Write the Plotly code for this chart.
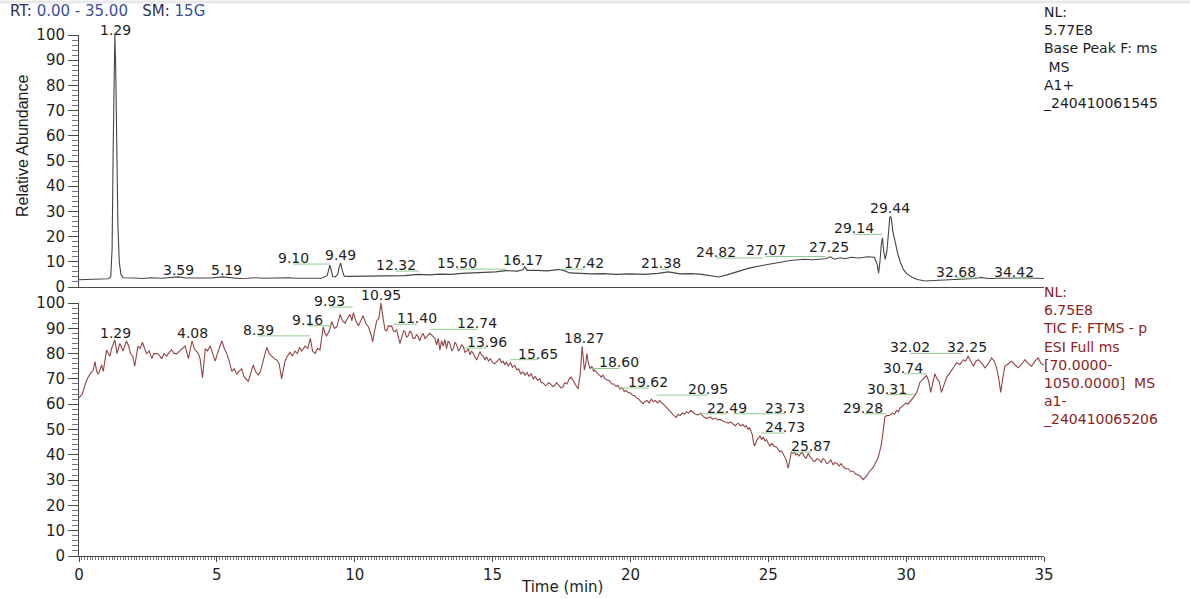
import plotly.graph_objects as go

W, H = 1190, 598

# ---------------- data ----------------
# Base peak chromatogram (top panel)
bp_time = [0.0, 0.3, 0.6, 0.9, 1.05, 1.15, 1.2, 1.24, 1.27, 1.30, 1.33, 1.37, 1.41, 1.46, 1.52, 1.6,
           1.8, 2.0, 2.3, 2.6, 3.0, 3.3, 3.6, 3.9, 4.2, 4.5, 4.8, 5.2, 5.5, 5.8, 6.1, 6.4, 6.7, 7.0,
           7.3, 7.6, 7.9, 8.2, 8.5, 8.8, 9.0, 9.05, 9.10, 9.15, 9.2, 9.3, 9.38, 9.44, 9.49, 9.55,
           9.62, 9.8, 10.2, 10.6, 11.0, 11.4, 11.8, 12.32, 12.7, 13.1, 13.5, 13.9, 14.3, 14.7,
           15.1, 15.5, 15.9, 16.1, 16.17, 16.25, 16.6, 17.0, 17.42, 17.6, 17.8, 18.2, 18.6, 19.0,
           19.5, 20.0, 20.5, 21.0, 21.38, 21.8, 22.2, 22.6, 23.0, 23.2, 23.5, 23.9, 24.3, 24.82,
           25.3, 25.8, 26.3, 26.6, 27.07, 27.25, 27.4, 27.6, 27.8, 28.0, 28.3, 28.6, 28.85, 28.95,
           29.0, 29.05, 29.10, 29.14, 29.19, 29.24, 29.3, 29.36, 29.41, 29.46, 29.52, 29.6, 29.7,
           29.8, 29.9, 30.0, 30.2, 30.4, 30.7, 31.0, 31.4, 31.8, 32.2, 32.5, 32.68, 33.0, 33.4,
           33.8, 34.1, 34.42, 34.7, 35.0]
bp_abund = [2.9, 3.0, 3.1, 3.2, 3.3, 4.0, 15, 55, 90, 100, 88, 55, 25, 10, 5, 3.7,
            3.5, 3.6, 3.4, 3.7, 3.5, 3.8, 4.0, 3.6, 3.5, 3.4, 3.6, 4.0, 3.6, 3.4, 3.5, 3.7, 3.5, 3.6,
            3.4, 3.7, 3.5, 3.6, 3.4, 3.5, 4.5, 7.0, 8.7, 6.5, 4.2, 4.0, 5.0, 8.0, 9.5, 6.5,
            4.3, 4.2, 4.3, 4.2, 4.4, 4.6, 4.5, 5.0, 4.8, 5.1, 5.0, 5.4, 5.5, 5.8,
            6.0, 6.5, 6.3, 6.8, 8.0, 6.6, 6.6, 6.4, 7.0, 6.5, 5.6, 5.4, 5.2, 5.3,
            5.0, 5.2, 5.0, 5.4, 6.0, 5.2, 5.3, 5.0, 4.2, 4.0, 4.8, 6.0, 7.5, 8.6,
            9.5, 10.5, 11.0, 10.8, 11.2, 12.0, 11.0, 11.6, 11.2, 11.8, 11.5, 12.0, 11.8, 9.0,
            5.5, 10.0, 17.0, 19.5, 14.0, 11.0, 14.0, 24.0, 28.0, 27.5, 22.0, 18.0, 13.0,
            9.5, 7.0, 5.5, 4.0, 3.0, 2.4, 2.6, 2.8, 3.0, 3.2, 3.4, 3.8, 3.4, 3.5,
            3.6, 3.8, 3.6, 3.5, 3.4]

# Total ion chromatogram (bottom panel)
tic_time = [0.00, 0.04, 0.12, 0.2, 0.28, 0.4, 0.52, 0.58, 0.64, 0.70, 0.76, 0.82, 0.88, 0.94, 1.0,
            1.06, 1.12, 1.18, 1.24, 1.30, 1.38, 1.43, 1.48, 1.54, 1.6, 1.66, 1.72, 1.8, 1.87, 1.95,
            2.02, 2.08, 2.14, 2.22, 2.3, 2.38, 2.45, 2.55, 2.64, 2.72, 2.82, 2.9, 3.0, 3.08, 3.18,
            3.27, 3.36, 3.45, 3.55, 3.64, 3.73, 3.85, 3.92, 3.97, 4.04, 4.1, 4.18, 4.27, 4.33, 4.39,
            4.48, 4.53, 4.58, 4.66, 4.76, 4.85, 4.94, 5.02, 5.1, 5.18, 5.27, 5.36, 5.45, 5.54, 5.63,
            5.72, 5.8, 5.9, 5.98, 6.06, 6.14, 6.22, 6.32, 6.4, 6.5, 6.58, 6.69, 6.75, 6.81, 6.9,
            6.99, 7.08, 7.17, 7.26, 7.35, 7.41, 7.47, 7.56, 7.65, 7.74, 7.83, 7.92, 8.0, 8.08, 8.2,
            8.3, 8.39, 8.47, 8.56, 8.65, 8.74, 8.86, 8.92, 8.98, 9.08, 9.17, 9.26, 9.35, 9.41, 9.47,
            9.56, 9.65, 9.74, 9.83, 9.9, 9.95, 10.04, 10.13, 10.22, 10.3, 10.4, 10.5, 10.58, 10.65,
            10.72, 10.8, 10.88, 10.95, 11.03, 11.1, 11.16, 11.22, 11.28, 11.34, 11.4, 11.46, 11.52,
            11.58, 11.64, 11.72, 11.78, 11.82, 11.88, 11.94, 12.0, 12.06, 12.12, 12.18, 12.24, 12.3,
            12.36, 12.42, 12.48, 12.55, 12.64, 12.73, 12.82, 12.91, 12.97, 13.03, 13.09, 13.15,
            13.21, 13.27, 13.33, 13.39, 13.45, 13.52, 13.58, 13.64, 13.7, 13.76, 13.82, 13.88,
            13.94, 14.0, 14.06, 14.12, 14.18, 14.24, 14.3, 14.36, 14.42, 14.48, 14.54, 14.6, 14.66,
            14.72, 14.78, 14.85, 14.92, 15.0, 15.08, 15.17, 15.26, 15.32, 15.38, 15.44, 15.5, 15.57,
            15.65, 15.72, 15.8, 15.88, 15.95, 16.02, 16.1, 16.18, 16.25, 16.32, 16.4, 16.48, 16.55,
            16.63, 16.71, 16.77, 16.83, 16.9, 16.95, 17.02, 17.1, 17.18, 17.25, 17.32, 17.4, 17.48,
            17.55, 17.62, 17.7, 17.78, 17.85, 17.95, 18.05, 18.1, 18.18, 18.25, 18.3, 18.33, 18.38,
            18.42, 18.48, 18.54, 18.6, 18.66, 18.7, 18.76, 18.82, 18.88, 18.94, 19.0, 19.08, 19.16,
            19.24, 19.32, 19.4, 19.48, 19.55, 19.62, 19.7, 19.78, 19.85, 19.92, 20.0, 20.08, 20.15,
            20.22, 20.3, 20.38, 20.45, 20.52, 20.6, 20.68, 20.76, 20.83, 20.9, 20.98, 21.06, 21.13,
            21.2, 21.28, 21.36, 21.43, 21.5, 21.58, 21.66, 21.73, 21.8, 21.88, 21.96, 22.03, 22.1,
            22.18, 22.27, 22.36, 22.45, 22.54, 22.63, 22.72, 22.8, 22.9, 22.99, 23.08, 23.17, 23.26,
            23.35, 23.45, 23.55, 23.63, 23.72, 23.8, 23.9, 23.99, 24.08, 24.15, 24.2, 24.27, 24.32,
            24.38, 24.42, 24.46, 24.5, 24.6, 24.7, 24.76, 24.82, 24.88, 24.94, 25.0, 25.06, 25.13,
            25.2, 25.3, 25.36, 25.42, 25.48, 25.55, 25.6, 25.65, 25.72, 25.78, 25.84, 25.9, 25.95,
            26.0, 26.05, 26.1, 26.15, 26.22, 26.3, 26.37, 26.45, 26.52, 26.58, 26.64, 26.69, 26.77,
            26.85, 26.92, 26.98, 27.05, 27.12, 27.2, 27.27, 27.35, 27.42, 27.5, 27.57, 27.64, 27.71,
            27.8, 27.9, 27.98, 28.08, 28.16, 28.25, 28.34, 28.44, 28.5, 28.55, 28.68, 28.8, 28.98,
            29.08, 29.14, 29.2, 29.23, 29.3, 29.41, 29.5, 29.58, 29.65, 29.72, 29.78, 29.89, 30.0,
            30.07, 30.13, 30.22, 30.31, 30.4, 30.5, 30.62, 30.74, 30.82, 30.89, 30.96, 31.04, 31.12,
            31.2, 31.28, 31.37, 31.47, 31.56, 31.65, 31.75, 31.83, 31.95, 32.07, 32.15, 32.25, 32.35,
            32.44, 32.53, 32.62, 32.75, 32.86, 32.98, 33.1, 33.2, 33.28, 33.36, 33.43, 33.5, 33.58,
            33.7, 33.83, 33.95, 34.07, 34.2, 34.31, 34.43, 34.55, 34.67, 34.79, 34.9, 35.0]
tic_abund = [62.5, 63, 64, 67, 69.6, 72, 73.5, 76.8, 73, 71.8, 73.5, 75.5, 73, 77, 81.4,
             80, 79, 82, 83.4, 85.4, 80, 82, 84, 82.5, 81, 83, 85, 83, 80, 79,
             75, 79, 83, 82, 84.5, 82, 80, 81, 78, 80, 80, 79.5, 78, 80, 79,
             80.5, 81.5, 80, 80, 81, 82, 83, 80, 78, 82, 85, 82, 81, 80, 78,
             70.5, 76, 82, 81, 83, 80, 77, 80, 83, 85, 82, 80, 77, 73, 74,
             71.8, 73, 74, 71, 70, 68.9, 72, 75.5, 73, 71.5, 73, 78, 81, 82.5, 80,
             79, 78, 77.5, 76, 70, 74, 77, 79, 80.5, 79, 81, 80, 82.5, 81, 83,
             82, 86, 81, 80, 82, 81.5, 90.6, 88, 87, 89, 92.6, 90, 90.5, 93, 95.5,
             93, 92, 94, 95.5, 93, 96.2, 93, 91, 93, 95, 92, 90.5, 88, 84.6,
             89, 93, 94, 100, 94, 89.3, 89, 91, 90.7, 91, 89, 88.7, 89.5,
             87, 84, 87, 89, 88.7, 86.5, 87, 89, 88, 86, 86, 87.5, 86.8,
             85, 87, 88, 86, 87, 88, 87, 86, 83.5, 86, 81.4, 85,
             83, 85.5, 82, 85, 84, 81, 82, 84.5, 83.4, 81, 82, 83.5,
             82.7, 80.5, 81, 82, 79.5, 81, 80, 78.5, 77.5, 79, 80.8, 79.5, 79,
             77.5, 78.8, 77, 78, 76.5, 76, 77, 78, 76.5, 77, 75.5, 76.8, 75,
             76.5, 74.5, 75.4, 73.5, 74, 72, 72.8, 71.5, 72.5, 71, 72, 70, 71,
             69.5, 70, 68.5, 68.5, 67.5, 67.4, 68.5, 68, 67, 67.4, 68.5, 67.5, 66.5,
             66.8, 68.5, 68, 70, 70.7, 69, 67, 66, 72, 82.8, 77, 73.5, 76,
             80, 76, 74, 75, 73, 73.5, 72.5, 72, 71.5, 70.7, 71.5, 70, 69.5,
             69.4, 68, 68, 67, 67.4, 66, 66.5, 65, 65.4, 64.5, 64.5, 63.5, 63.4,
             62.5, 62, 61, 60.2, 61, 61.5, 60.5, 62, 61, 61.5, 60.5, 61.4, 60.5,
             60, 59, 58, 57.5, 56.5, 55.5, 54.8, 56, 55.5, 56.5, 56, 57, 56.5,
             57.5, 56.8, 56, 55.8, 56.5, 55.4, 54.5, 54.5, 55, 54, 54.5, 53.8, 54,
             53.4, 53, 52.5, 53, 52, 51.5, 52.5, 51.5, 52, 51, 51.5, 50, 50.8,
             49.5, 48, 45, 43.5, 46, 47.5, 46, 47, 45.5, 46, 44.5, 43.5, 44.5,
             43.5, 43, 42, 41.2, 41.5, 40, 39, 38, 34.7, 38, 41.2, 40.5, 41,
             40, 40.5, 39.5, 40, 41, 39.5, 38.5, 40.6, 39, 38.5, 37.5, 37.4, 38.5,
             38, 37, 38.5, 38, 36.5, 37, 38, 36.1, 37, 36.5, 35.5, 36.5, 35.4,
             34.5, 34.5, 33.5, 33.5, 32.5, 32, 31.5, 30.2, 30.8, 31.5, 33.5, 35, 38.7,
             43, 47, 52, 55, 55.5, 55.6, 56.5, 56, 57.6, 57, 58.5, 59.5, 60.5,
             60, 60.8, 62, 63.4, 65, 68.7, 70, 71.3, 69, 64.7, 68, 72, 70,
             69, 64.7, 68, 70.7, 72, 73.3, 75, 76.4, 75.7, 77.6, 77, 79, 77,
             75, 77, 77.6, 76, 74.4, 76, 78.3, 77, 74.4, 70, 64.7, 70, 75,
             76, 77, 75.5, 74.4, 76, 77.6, 76, 75, 77, 78.3, 76, 75.5]

# Peak labels: retention time value, and where the label text sits (time, abundance)
bp_peak_rt = [1.29, 3.59, 5.19, 9.10, 9.49, 12.32, 15.50, 16.17, 17.42, 21.38,
              24.82, 27.07, 27.25, 29.14, 29.44, 32.68, 34.42]
bp_label_t = [1.31, 3.60, 5.36, 7.77, 9.50, 11.50, 13.70, 16.10, 18.30, 21.10,
              23.10, 24.90, 27.20, 28.10, 29.40, 31.80, 33.90]
bp_label_y = [101.8, 6.7, 6.7, 11.5, 12.7, 8.7, 9.5, 10.7, 9.5, 9.5,
              13.9, 14.5, 15.9, 23.3, 31.5, 6.0, 6.0]

tic_peak_rt = [1.29, 4.08, 8.39, 9.16, 9.93, 10.95, 11.40, 12.74, 13.96, 15.65, 18.27, 18.60,
               19.62, 20.95, 22.49, 23.73, 24.73, 25.87, 29.28, 30.31, 30.74, 32.02, 32.25]
tic_label_t = [1.34, 4.10, 6.50, 8.30, 9.10, 10.96, 12.25, 14.45, 14.80, 16.65, 18.30, 19.60,
               20.65, 22.80, 23.50, 25.60, 25.60, 26.55, 28.45, 29.30, 29.90, 30.15, 32.20]
tic_label_y = [88.0, 88.0, 89.4, 93.4, 100.8, 103.0, 94.0, 92.0, 84.6, 80.0, 86.0, 76.5,
               68.8, 66.0, 58.6, 58.6, 51.0, 43.5, 58.6, 66.2, 74.4, 82.5, 82.6]

x_ticks = [0, 5, 10, 15, 20, 25, 30, 35]
y_ticks = [0, 10, 20, 30, 40, 50, 60, 70, 80, 90, 100]

top_info = ["NL:", "5.77E8", "Base Peak F: ms", "\u00a0MS", "A1+", "_240410061545"]
bottom_info = ["NL:", "6.75E8", "TIC F: FTMS - p", "ESI Full ms", "[70.0000-",
               "1050.0000]\u00a0\u00a0MS", "a1-", "_240410065206"]

# ---------------- styling ----------------
FONT = "DejaVu Sans, Liberation Sans, Arial, sans-serif"
AX = "#4a4a4a"
TXT = "#1e1e1e"
GREEN = "#8fca8f"

X0, X1 = 79, 1044          # plot area, pixels
TOP_Y0, TOP_Y1 = 287, 35
BOT_Y0, BOT_Y1 = 556, 303


def pxx(x):
    return x / W


def pxy(y):
    return 1 - y / H


x_dom = [pxx(X0), pxx(X1)]
top_dom = [pxy(TOP_Y0), pxy(TOP_Y1)]
bot_dom = [pxy(BOT_Y0), pxy(BOT_Y1)]

fig = go.Figure()
fig.add_trace(go.Scatter(x=bp_time, y=bp_abund, mode="lines", xaxis="x", yaxis="y",
                         line=dict(color="#454545", width=1.1), hoverinfo="skip", showlegend=False))
fig.add_trace(go.Scatter(x=tic_time, y=tic_abund, mode="lines", xaxis="x2", yaxis="y2",
                         line=dict(color="#934545", width=1.1), hoverinfo="skip", showlegend=False))

yax = dict(range=[0, 100], tickvals=y_ticks, ticks="outside", ticklen=10, tickwidth=1,
           tickcolor=AX, showline=True, linecolor=AX, linewidth=1, showgrid=False, zeroline=False,
           tickfont=dict(family=FONT, size=15, color=TXT), automargin=False,
           minor=dict(dtick=2, ticks="outside", ticklen=6, tickcolor="#777777", showgrid=False),
           fixedrange=True)

fig.update_layout(
    width=W, height=H, margin=dict(l=0, r=0, t=0, b=0, autoexpand=False),
    paper_bgcolor="white", plot_bgcolor="white",
    xaxis=dict(domain=x_dom, anchor="y", range=[0, 35], showline=True, linecolor=AX,
               ticks="", showticklabels=False, showgrid=False, zeroline=False, automargin=False,
               fixedrange=True),
    yaxis=dict(domain=top_dom, anchor="x", **yax),
    xaxis2=dict(domain=x_dom, anchor="y2", range=[0, 35], tickvals=x_ticks, showline=True,
                linecolor=AX, ticks="outside", ticklen=5, tickcolor=AX, showgrid=False,
                zeroline=False, tickfont=dict(family=FONT, size=15, color=TXT), automargin=False,
                fixedrange=True,
                minor=dict(dtick=0.1, ticks="outside", ticklen=3, tickcolor="#777777",
                           showgrid=False)),
    yaxis2=dict(domain=bot_dom, anchor="x2", **yax),
)

annotations = []
shapes = []


def add_labels(peaks, lt, ly, xr, yr, px_per_unit):
    for rt, t, y in zip(peaks, lt, ly):
        # labels above the top of the axis range are pinned to 100 and shifted up in pixels
        ypos = min(y, 100.0)
        shift = (y - ypos) * px_per_unit
        annotations.append(dict(x=t, y=ypos, xref=xr, yref=yr, text=f"{rt:.2f}", showarrow=False,
                                xanchor="center", yanchor="middle", yshift=shift, borderpad=0,
                                font=dict(family=FONT, size=14, color=TXT)))
        if abs(t - rt) > 0.2 and y - 2.4 <= 100:
            shapes.append(dict(type="line", xref=xr, yref=yr, x0=t, x1=rt, y0=y - 2.4, y1=y - 2.4,
                               line=dict(color=GREEN, width=1)))


add_labels(bp_peak_rt, bp_label_t, bp_label_y, "x", "y", (TOP_Y0 - TOP_Y1) / 100)
add_labels(tic_peak_rt, tic_label_t, tic_label_y, "x2", "y2", (BOT_Y0 - BOT_Y1) / 100)

# header
annotations.append(dict(
    x=pxx(9), y=pxy(11), xref="paper", yref="paper", xanchor="left", yanchor="middle",
    showarrow=False, borderpad=0, font=dict(family=FONT, size=15, color="#2d2d5a"),
    text="RT: <span style='color:#3c4f9e'>0.00 - 35.00</span>\u00a0\u00a0\u00a0SM: "
         "<span style='color:#3c4f9e'>15G</span>"))

# info blocks on the right (one multi-line text each)
annotations.append(dict(x=pxx(1042), y=pxy(3), xref="paper", yref="paper", xanchor="left",
                        yanchor="top", align="left", showarrow=False, borderpad=0,
                        text="<br>".join(top_info),
                        font=dict(family=FONT, size=14, color=TXT)))
annotations.append(dict(x=pxx(1042), y=pxy(283), xref="paper", yref="paper", xanchor="left",
                        yanchor="top", align="left", showarrow=False, borderpad=0,
                        text="<br>".join(bottom_info),
                        font=dict(family=FONT, size=14, color="#8b2424")))

# axis titles
annotations.append(dict(x=pxx(22), y=pxy(146), xref="paper", yref="paper", textangle=-90,
                        xanchor="center", yanchor="middle", showarrow=False,
                        text="Relative Abundance",
                        font=dict(family="Liberation Sans, Arial", size=16, color=TXT)))
annotations.append(dict(x=pxx(562), y=pxy(587), xref="paper", yref="paper", showarrow=False,
                        xanchor="center", yanchor="middle",
                        text="Time (min)", font=dict(family=FONT, size=15, color=TXT)))

# faint top border strip
shapes.append(dict(type="line", xref="paper", yref="paper", x0=0, x1=1, y0=pxy(2), y1=pxy(2),
                   line=dict(color="#e8e8e8", width=3)))

fig.update_layout(annotations=annotations, shapes=shapes)
fig.write_html("out.html", config={"displayModeBar": False, "staticPlot": True},
               post_script="document.body.style.margin='0px';")
